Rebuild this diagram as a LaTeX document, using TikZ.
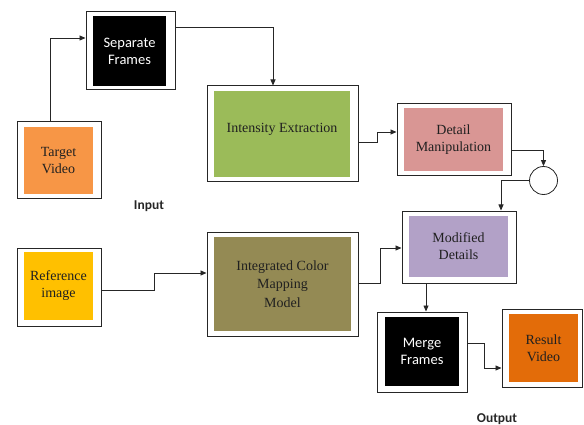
\documentclass[tikz,border=0pt]{standalone}
\usepackage{fontspec}
\setmainfont{Liberation Serif}
\newfontfamily\serfont{Liberation Serif}
\newfontfamily\calfont{Carlito}
\usetikzlibrary{arrows.meta}
\definecolor{cTarget}{HTML}{F79646}
\definecolor{cGreen}{HTML}{9BBB59}
\definecolor{cPink}{HTML}{D99694}
\definecolor{cPurple}{HTML}{B2A1C7}
\definecolor{cOlive}{HTML}{948A54}
\definecolor{cRef}{HTML}{FFC000}
\definecolor{cResult}{HTML}{E36C09}
\definecolor{cText}{HTML}{202020}
\tikzset{
  outerbox/.style={draw=black!85, line width=1pt, fill=white, inner sep=0pt},
  innerbox/.style={inner sep=0pt, align=center, font=\serfont\fontsize{14}{17}\selectfont, text=cText},
  darkbox/.style={innerbox, fill=black, text=white, font=\calfont\fontsize{14.5}{17}\selectfont},
  conn/.style={draw=black!85, line width=0.8pt, -{Triangle[length=6pt,width=5pt]}},
  lbl/.style={font=\calfont\bfseries\fontsize{13.5}{14}\selectfont, text=black!85}
}
\begin{document}
\begin{tikzpicture}[x=1pt,y=-1pt]
\useasboundingbox (0,0) rectangle (584,425);
% Target Video
\node[outerbox, minimum width=84, minimum height=77] (tvo) at (59,160.5) {};
\node[innerbox, fill=cTarget, minimum width=69, minimum height=67] (tv) at (58.5,160.5) {Target\\Video};
% Separate Frames
\node[outerbox, minimum width=89, minimum height=78] (sfo) at (130.5,51) {};
\node[darkbox, minimum width=73, minimum height=70] (sf) at (129.5,51) {Separate\\Frames};
% Intensity Extraction
\node[outerbox, minimum width=151, minimum height=96] (ieo) at (282.5,134) {};
\node[innerbox, fill=cGreen, minimum width=136, minimum height=86, text depth=12pt] (ie) at (282,134) {Intensity Extraction};
% Detail Manipulation
\node[outerbox, minimum width=114, minimum height=72] (dmo) at (454,140) {};
\node[innerbox, fill=cPink, minimum width=99, minimum height=63] (dm) at (453.5,139.5) {Detail\\Manipulation};
% circle
\node[draw=black!85, line width=0.8pt, circle, minimum size=28, inner sep=0pt, fill=white] (cc) at (543.5,180.5) {};
% Modified Details
\node[outerbox, minimum width=114, minimum height=72] (mdo) at (459,247) {};
\node[innerbox, fill=cPurple, minimum width=99, minimum height=61] (md) at (458.5,246.5) {Modified\\Details};
% Integrated Color Mapping Model
\node[outerbox, minimum width=151, minimum height=104] (icmo) at (282.5,284) {};
\node[innerbox, fill=cOlive, minimum width=137, minimum height=94, font=\serfont\fontsize{14}{18.5}\selectfont] (icm) at (282.5,284) {Integrated Color\\Mapping\\Model};
% Reference image
\node[outerbox, minimum width=84, minimum height=78] (rio) at (59,287) {};
\node[innerbox, fill=cRef, minimum width=69, minimum height=68] (ri) at (58.5,286) {Reference\\image};
% Merge Frames
\node[outerbox, minimum width=90, minimum height=80] (mfo) at (422,352) {};
\node[darkbox, minimum width=74, minimum height=69] (mf) at (422,351.5) {Merge\\Frames};
% Result Video
\node[outerbox, minimum width=80, minimum height=78] (rvo) at (542,348) {};
\node[innerbox, fill=cResult, minimum width=69, minimum height=68] (rv) at (543.5,348) {Result\\Video};
% labels
\node[lbl] (inp) at (149,206) {Input};
\node[lbl] (outp) at (497,419) {Output};
% connectors
\draw[conn] (tvo.north -| 50,0) |- (sfo.west |- 0,38);
\draw[conn] (sfo.east |- 0,27) -| (273,0 |- ieo.north);
\draw[conn] (ieo.east |- 0,142) -- (377,142) |- (dmo.west |- 0,132);
\draw[conn] (dmo.east |- 0,150) -| (cc.north);
\draw[conn] (cc.west) -| (501,0 |- mdo.north);
\draw[conn] (rio.east |- 0,290) -- (154,290) |- (icmo.west |- 0,273);
\draw[conn] (icmo.east |- 0,283) -- (380,283) |- (mdo.west |- 0,248);
\draw[conn] (mdo.south -| 426,0) -- (mfo.north -| 426,0);
\draw[conn] (mfo.east |- 0,343) -- (484,343) |- (rvo.west |- 0,368);
\end{tikzpicture}
\end{document}
